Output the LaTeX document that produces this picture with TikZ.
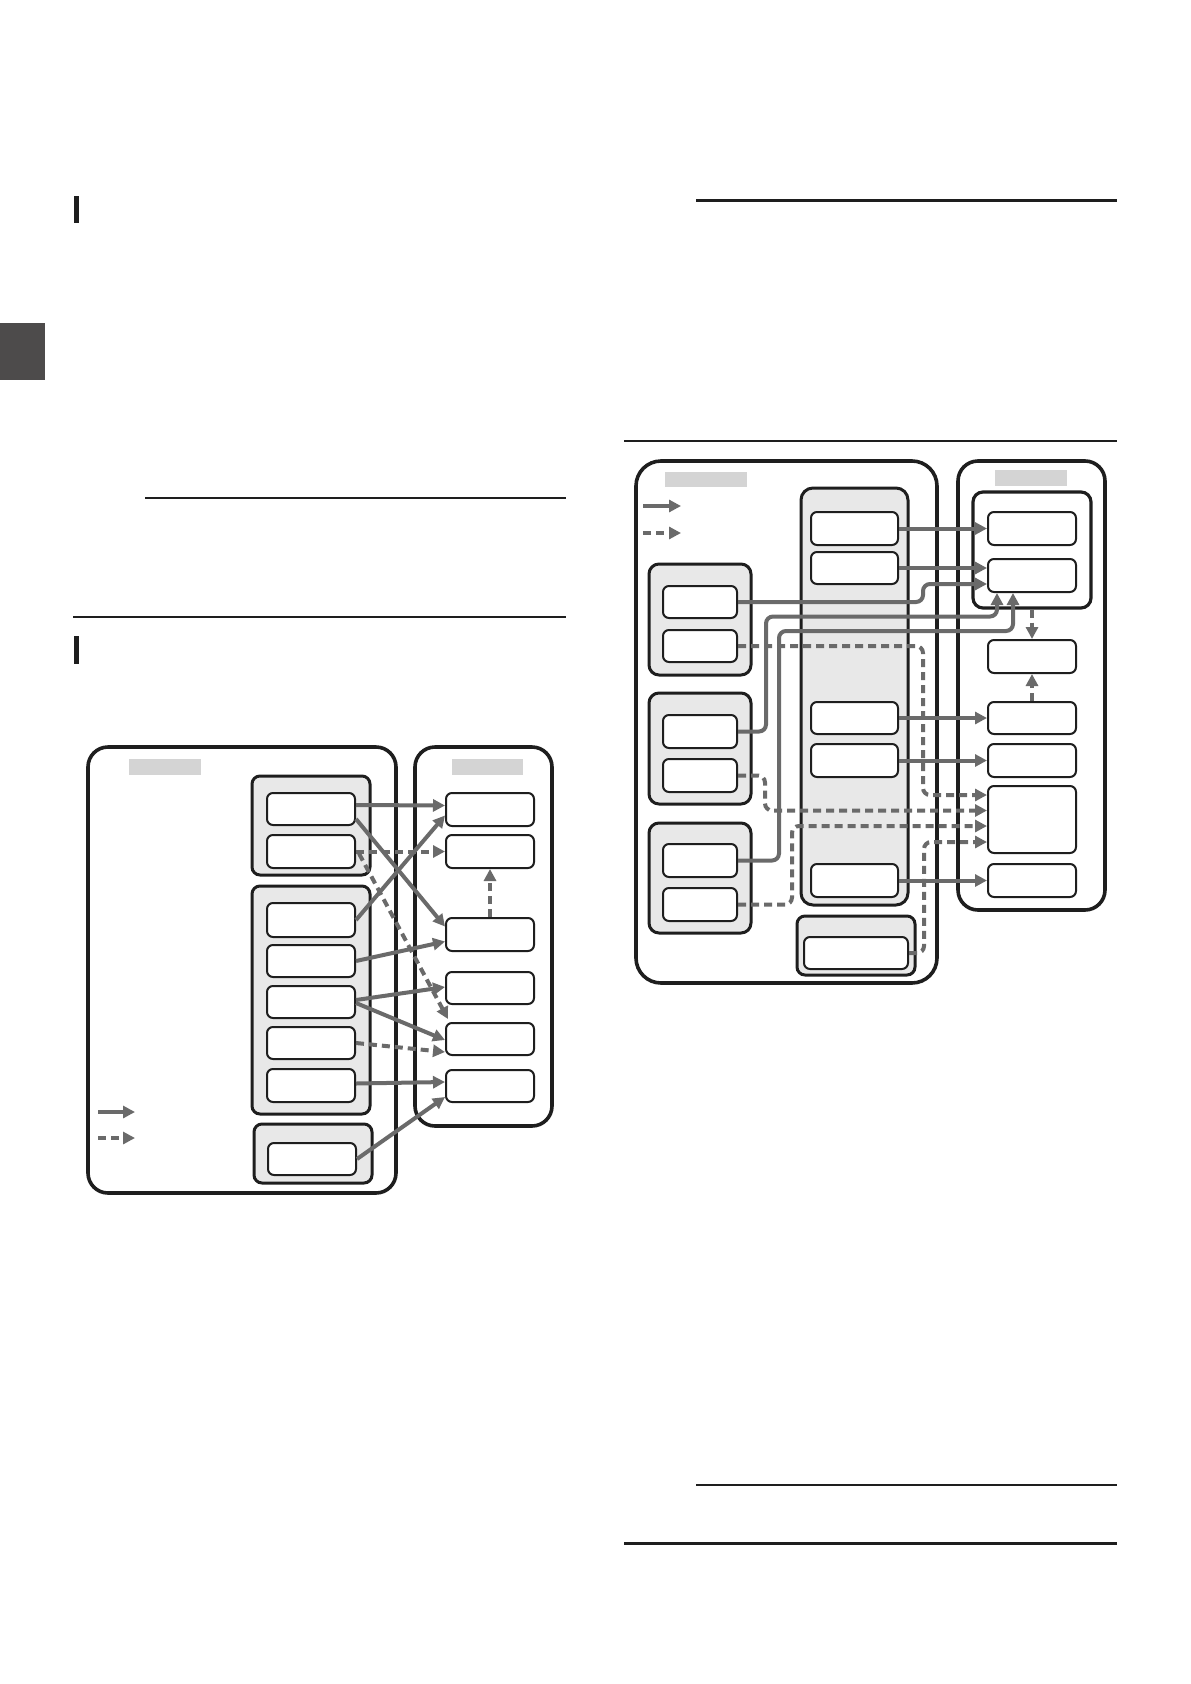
\documentclass[tikz,border=0pt]{standalone}
\usetikzlibrary{arrows.meta,calc,fit}
\definecolor{arrgray}{HTML}{6A6A6A}
\definecolor{grpfill}{HTML}{E8E8E8}
\definecolor{lblgray}{HTML}{D4D4D4}
\definecolor{ink}{HTML}{1E1E1E}
\definecolor{tabgray}{HTML}{4D4B4B}
\begin{document}
\begin{tikzpicture}[x=1pt,y=-1pt,
  outerbox/.style={draw=ink, line width=3.6pt, rounded corners=20pt, inner sep=0pt, fill=white},
  grpbox/.style={draw=ink, line width=3pt, rounded corners=8pt, fill=grpfill, inner sep=0pt},
  wgrp/.style={draw=ink, line width=3.2pt, rounded corners=10pt, fill=white, inner sep=0pt},
  wbox/.style={draw=ink, line width=2pt, rounded corners=6pt, fill=white, inner sep=0pt},
  lbl/.style={fill=lblgray, draw=none, inner sep=0pt},
  arr/.style={draw=arrgray, line width=4pt, -{Triangle[length=12pt,width=12pt]}, rounded corners=7pt},
  darr/.style={arr, dash pattern=on 8pt off 5pt},
  rulethin/.style={draw=ink, line width=1.5pt},
  rulethick/.style={draw=ink, line width=3pt},
]
\useasboundingbox[fill=white] (0,0) rectangle (1191,1684);

% ---------- page furniture ----------
\fill[tabgray] (0,323) rectangle (45,380);
\fill[ink] (73.5,196) rectangle (78.5,223);
\fill[ink] (73.5,636) rectangle (78.5,664);
\draw[rulethin] (145,498) -- (566,498);
\draw[rulethin] (73,617) -- (566,617);
\draw[rulethick] (696,200) -- (1117,200);
\draw[rulethin] (624,441) -- (1117,441);
\draw[rulethin] (696,1485) -- (1117,1485);
\draw[rulethick] (624,1543) -- (1117,1543);

% ---------- diagram 1 ----------
\node[outerbox, fit={(88,747)(396,1193)}] (L1) {};
\node[outerbox, fit={(415,747)(552,1126)}] (P1) {};
\node[lbl, fit={(129,759)(201,775)}] (L1lbl) {};
\node[lbl, fit={(452,759)(523,775)}] (P1lbl) {};

\node[grpbox, fit={(252,776)(370,875)}] (GA) {};
\node[grpbox, fit={(252,886)(370,1114)}] (GB) {};
\node[grpbox, fit={(254,1124)(372,1183)}] (GC) {};

\node[wbox, fit={(267,793)(355,825)}] (A1) {};
\node[wbox, fit={(267,835)(355,868)}] (A2) {};
\node[wbox, fit={(267,903)(355,937)}] (B1) {};
\node[wbox, fit={(267,945)(355,977)}] (B2) {};
\node[wbox, fit={(267,986)(355,1018)}] (B3) {};
\node[wbox, fit={(267,1027)(355,1059)}] (B4) {};
\node[wbox, fit={(267,1069)(355,1102)}] (B5) {};
\node[wbox, fit={(268,1143)(356,1175)}] (C1) {};

\node[wbox, fit={(446,793)(534,826)}] (R1) {};
\node[wbox, fit={(446,835)(534,868)}] (R2) {};
\node[wbox, fit={(446,918)(534,951)}] (R3) {};
\node[wbox, fit={(446,972)(534,1004)}] (R4) {};
\node[wbox, fit={(446,1023)(534,1055)}] (R5) {};
\node[wbox, fit={(446,1070)(534,1102)}] (R6) {};

\coordinate (lg1a) at (98,1112); \coordinate (lg1b) at (135,1112);
\coordinate (lg2a) at (98,1138); \coordinate (lg2b) at (135,1138);
\draw[arr] (lg1a) -- (lg1b);
\draw[darr] (lg2a) -- (lg2b);

\draw[darr] ($(A2.east)+(3,2)$) -- ($(R5.north west)+(3,-3)$);
\draw[arr] ($(A1.east)+(0,-4)$) -- ($(R1.west)+(0,-4)$);
\draw[arr] ($(A1.east)+(0,10)$) -- ($(R3.west)+(0,-8)$);
\draw[darr] (A2.east) -- (R2.west);
\draw[arr] (B1.east) -- ($(R1.west)+(0,6)$);
\draw[arr] (B2.east) -- ($(R3.west)+(0,7)$);
\draw[arr] ($(B3.east)+(0,-2)$) -- ($(R4.west)+(0,-1)$);
\draw[arr] ($(B3.east)+(0,1)$) -- ($(R5.west)+(0,1)$);
\draw[darr] (B4.east) -- ($(R5.west)+(0,13)$);
\draw[arr] ($(B5.east)+(0,-2)$) -- ($(R6.west)+(0,-4)$);
\draw[arr] (C1.east) -- ($(R6.west)+(0,11)$);
\draw[darr] (R3.north) -- (R2.south);

% ---------- diagram 2 ----------
\node[outerbox, rounded corners=25pt, fit={(636,461)(937,983)}] (L2) {};
\node[outerbox, fit={(958,461)(1105,910)}] (P2) {};
\node[lbl, fit={(665,472)(747,487)}] (L2lbl) {};
\node[lbl, fit={(995,470)(1067,486)}] (P2lbl) {};

\coordinate (lg3a) at (643,506); \coordinate (lg3b) at (681,506);
\coordinate (lg4a) at (643,533); \coordinate (lg4b) at (681,533);
\draw[arr] (lg3a) -- (lg3b);
\draw[darr] (lg4a) -- (lg4b);

\node[grpbox, rounded corners=12pt, fit={(801,488)(908,905)}] (GM) {};
\node[grpbox, fit={(797,916)(915,975)}] (GN) {};
\node[grpbox, rounded corners=10pt, fit={(649,564)(751,675)}] (G1) {};
\node[grpbox, rounded corners=10pt, fit={(649,693)(751,804)}] (G2) {};
\node[grpbox, rounded corners=10pt, fit={(649,823)(751,933)}] (G3) {};
\node[wgrp, fit={(973,492)(1091,608)}] (GT) {};

\node[wbox, fit={(811,512)(898,545)}] (M1) {};
\node[wbox, fit={(811,552)(898,584)}] (M2) {};
\node[wbox, fit={(811,702)(898,734)}] (M3) {};
\node[wbox, fit={(811,744)(898,777)}] (M4) {};
\node[wbox, fit={(811,864)(898,897)}] (M5) {};
\node[wbox, fit={(804,937)(908,969)}] (N1) {};
\node[wbox, fit={(663,586)(737,618)}] (G1a) {};
\node[wbox, fit={(663,630)(737,662)}] (G1b) {};
\node[wbox, fit={(663,715)(737,748)}] (G2a) {};
\node[wbox, fit={(663,759)(737,792)}] (G2b) {};
\node[wbox, fit={(663,844)(737,877)}] (G3a) {};
\node[wbox, fit={(663,888)(737,921)}] (G3b) {};
\node[wbox, fit={(988,512)(1076,545)}] (T1) {};
\node[wbox, fit={(988,559)(1076,592)}] (T2) {};
\node[wbox, fit={(988,640)(1076,673)}] (S1) {};
\node[wbox, fit={(988,702)(1076,734)}] (S2) {};
\node[wbox, fit={(988,744)(1076,777)}] (S3) {};
\node[wbox, fit={(988,786)(1076,853)}] (S4) {};
\node[wbox, fit={(988,864)(1076,897)}] (S5) {};

% dashed routes into S4
\draw[darr] (G1b.east) -- ++(185,0) |- ($(S4.west)+(0,-24.5)$);
\draw[darr] (G2b.east) -- ++(27,0) |- ($(S4.west)+(0,-9)$);
\draw[darr] (G3b.east) -- ++(54,0) |- ($(S4.west)+(0,6.5)$);
\draw[darr] (N1.east) -- ++(15,0) |- ($(S4.west)+(0,22.5)$);

% solid routes
\draw[arr] (M1.east) -- (T1.west);
\draw[arr] (M2.east) -- (M2.east -| T2.west);
\draw[arr] (G1a.east) -- ++(185,0) |- ($(T2.west)+(0,8.5)$);
\draw[arr] (G2a.east) -- ++(28,0) |- ($(T2.south)+(-35,23.5)$) -- ($(T2.south)+(-35,0)$);
\draw[arr] (G3a.east) -- ++(41,0) |- ($(T2.south)+(-19,38)$) -- ($(T2.south)+(-19,0)$);
\draw[arr] (M3.east) -- (S2.west);
\draw[arr] (M4.east) -- (S3.west);
\draw[arr] (M5.east) -- (S5.west);
\draw[darr] (GT.south) -- (S1.north);
\draw[darr] (S2.north) -- (S1.south);
\end{tikzpicture}
\end{document}
